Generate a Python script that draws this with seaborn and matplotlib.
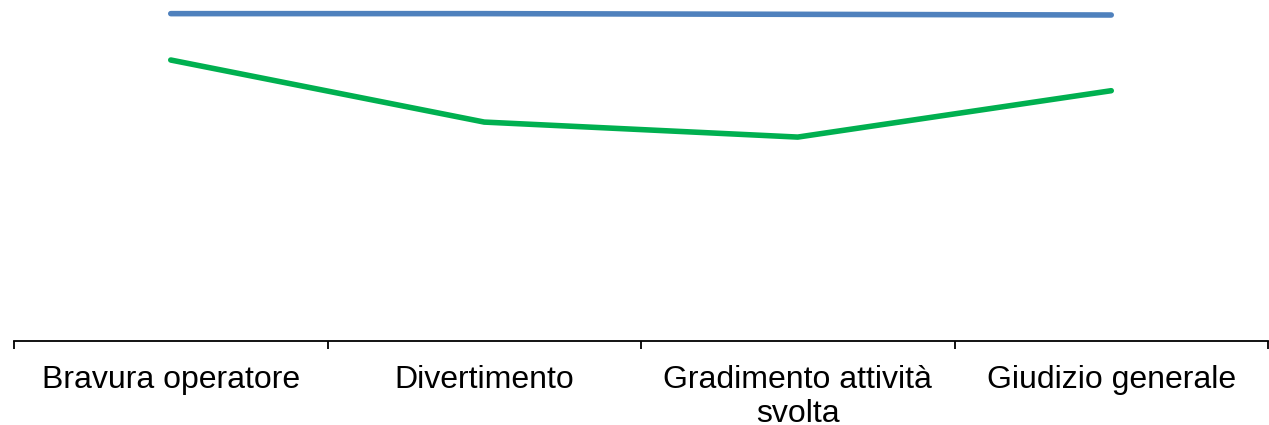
import matplotlib
matplotlib.use("Agg")
import matplotlib.pyplot as plt
import seaborn as sns
import pandas as pd

categorie = ["Bravura operatore", "Divertimento", "Gradimento attività\nsvolta", "Giudizio generale"]
serie_blu = [4.80, 4.80, 4.79, 4.78]
serie_verde = [4.12, 3.21, 2.99, 3.67]

sns.set_theme(style="white")
plt.rcParams['font.family'] = ['Liberation Sans', 'DejaVu Sans']

df = pd.DataFrame({
    "categoria": categorie * 2,
    "valore": serie_blu + serie_verde,
    "serie": ["blu"] * 4 + ["verde"] * 4,
})

fig = plt.figure(figsize=(12.69, 4.25), dpi=100)
ax = fig.add_axes([14 / 1269, 1 - 341 / 425, 1254 / 1269, 341 / 425])

sns.lineplot(data=df, x="categoria", y="valore", hue="serie", sort=False,
             palette={"blu": "#4F81BD", "verde": "#00B050"},
             linewidth=4.0, legend=False, ax=ax, solid_capstyle="round")

ax.set_xlim(-0.5, 3.5)
ax.set_ylim(0, 5)
ax.set_xlabel("")
ax.set_ylabel("")
ax.set_yticks([])
for s in ["top", "right", "left"]:
    ax.spines[s].set_visible(False)
ax.spines["bottom"].set_color("black")
ax.spines["bottom"].set_linewidth(1.3)

ax.set_xticks(range(len(categorie)))
ax.set_xticklabels(categorie, fontsize=23, linespacing=1.2, va="top", color="black")
ax.tick_params(axis="x", which="major", length=0, pad=17)
ax.set_xticks([i - 0.5 for i in range(len(categorie) + 1)], minor=True)
ax.tick_params(axis="x", which="minor", bottom=True, direction="out", length=6, width=1.3, color="black")

fig.savefig("out.png", dpi=100)
